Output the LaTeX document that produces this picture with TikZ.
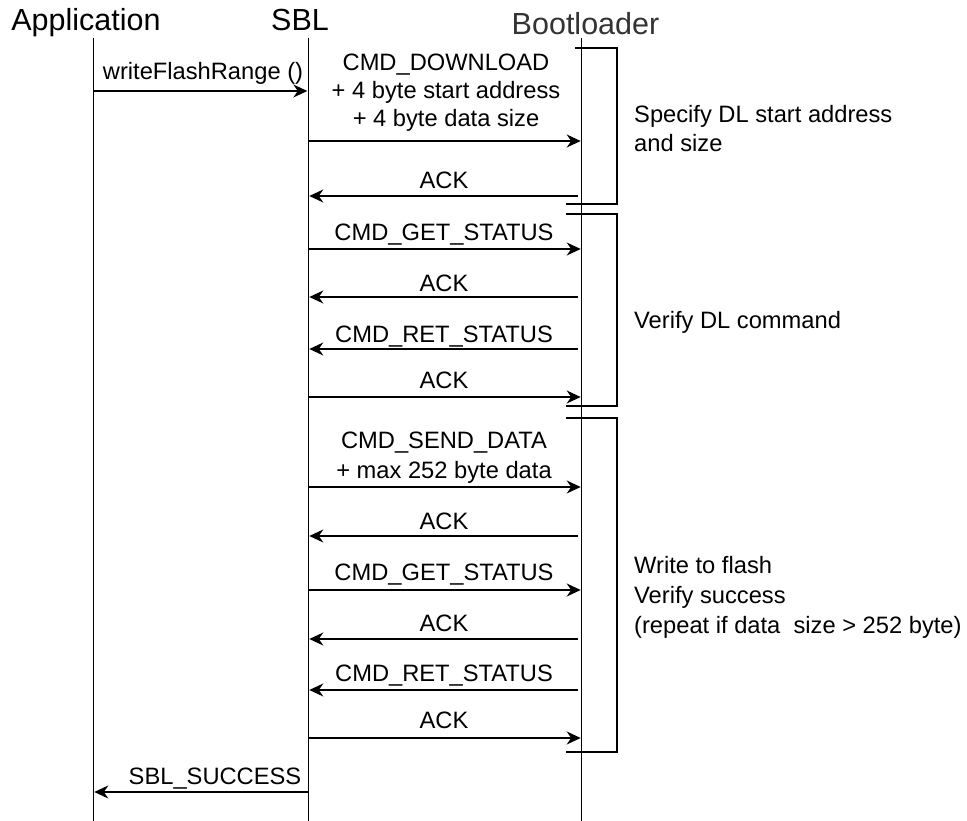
\documentclass[tikz,border=0pt]{standalone}
\usepackage{fontspec}
\setmainfont{Liberation Sans}
\usetikzlibrary{arrows.meta}
\begin{document}
\begin{tikzpicture}[x=1pt,y=-1pt,
  life/.style={line width=1.5pt},
  msg/.style={line width=1.5pt,shorten >=1pt,-{Stealth[length=14pt,width=13pt,inset=4.5pt]}},
  brk/.style={line width=1.5pt},
  title/.style={font=\fontsize{30.5}{34}\selectfont,inner sep=0pt,anchor=base},
  lbl/.style={font=\fontsize{23.7}{28}\selectfont,inner sep=0pt,anchor=base},
  side/.style={font=\fontsize{23.7}{28}\selectfont,inner sep=0pt,anchor=base west}]
\useasboundingbox (0,0) rectangle (967,821);
% lifelines
\coordinate (appT) at (93.3,38); \coordinate (appB) at (93.3,821);
\coordinate (sblT) at (308.3,38); \coordinate (sblB) at (308.3,821);
\coordinate (blT) at (581.7,38); \coordinate (blB) at (581.7,821);
\draw[life] (appT) -- (appB);
\draw[life] (sblT) -- (sblB);
\draw[life] (blT) -- (blB);
% titles
\node[title] (tApp) at (86,31) {Application};
\node[title] (tSbl) at (300,31) {SBL};
\node[title,text=black!80] (tBl) at (585.5,35) {Bootloader};
% message end points
\foreach \n/\y in {m1/91,m2/141,m3/196,m4/249,m5/297,m6/349,m7/397,m8/487,m9/536,m10/590,m11/639,m12/690,m13/738,m14/792}{
  \coordinate (a\n) at (93.3,\y);
  \coordinate (s\n) at (308.3,\y);
  \coordinate (b\n) at (581.7,\y);
  \coordinate (c\n) at (578,\y);
}
% messages
\draw[msg] (am1) -- (sm1);
\draw[msg] (sm2) -- (bm2);
\draw[msg] (cm3) -- (sm3);
\draw[msg] (sm4) -- (bm4);
\draw[msg] (cm5) -- (sm5);
\draw[msg] (cm6) -- (sm6);
\draw[msg] (sm7) -- (bm7);
\draw[msg] (sm8) -- (bm8);
\draw[msg] (cm9) -- (sm9);
\draw[msg] (sm10) -- (bm10);
\draw[msg] (cm11) -- (sm11);
\draw[msg] (cm12) -- (sm12);
\draw[msg] (sm13) -- (bm13);
\draw[msg] (sm14) -- (am14);
% labels
\node[lbl] (l1) at (203,80) {writeFlashRange ()};
\node[lbl] (l2a) at (446,71) {CMD\_DOWNLOAD};
\node[lbl] (l2b) at (446,99) {+ 4 byte start address};
\node[lbl] (l2c) at (446,127) {+ 4 byte data size};
\node[lbl] (l3) at (444,188.5) {ACK};
\node[lbl] (l4) at (444,241) {CMD\_GET\_STATUS};
\node[lbl] (l5) at (444,291.5) {ACK};
\node[lbl] (l6) at (444,342.5) {CMD\_RET\_STATUS};
\node[lbl] (l7) at (444,388.5) {ACK};
\node[lbl] (l8a) at (444,448.5) {CMD\_SEND\_DATA};
\node[lbl] (l8b) at (444,478.5) {+ max 252 byte data};
\node[lbl] (l9) at (444,529.5) {ACK};
\node[lbl] (l10) at (444,580.5) {CMD\_GET\_STATUS};
\node[lbl] (l11) at (444,631.5) {ACK};
\node[lbl] (l12) at (444,681.5) {CMD\_RET\_STATUS};
\node[lbl] (l13) at (444,728.5) {ACK};
\node[lbl] (l14) at (215,784.5) {SBL\_SUCCESS};
% brackets
\coordinate (k1a) at (575,48); \coordinate (k1b) at (617,48);
\coordinate (k1c) at (617,204); \coordinate (k1d) at (566,204);
\draw[brk] (k1a) -- (k1b) -- (k1c) -- (k1d);
\coordinate (k2a) at (566,214); \coordinate (k2b) at (617,214);
\coordinate (k2c) at (617,406); \coordinate (k2d) at (566,406);
\draw[brk] (k2a) -- (k2b) -- (k2c) -- (k2d);
\coordinate (k3a) at (566,418); \coordinate (k3b) at (617,418);
\coordinate (k3c) at (617,752); \coordinate (k3d) at (566,752);
\draw[brk] (k3a) -- (k3b) -- (k3c) -- (k3d);
% side texts
\node[side] (s1a) at (634,123) {Specify DL start address};
\node[side] (s1b) at (634,152) {and size};
\node[side] (s2) at (634,328) {Verify DL command};
\node[side] (s3a) at (634,573) {Write to flash};
\node[side] (s3b) at (634,603) {Verify success};
\node[side] (s3c) at (634,633) {(repeat if data\ \ size > 252 byte)};
\end{tikzpicture}
\end{document}
